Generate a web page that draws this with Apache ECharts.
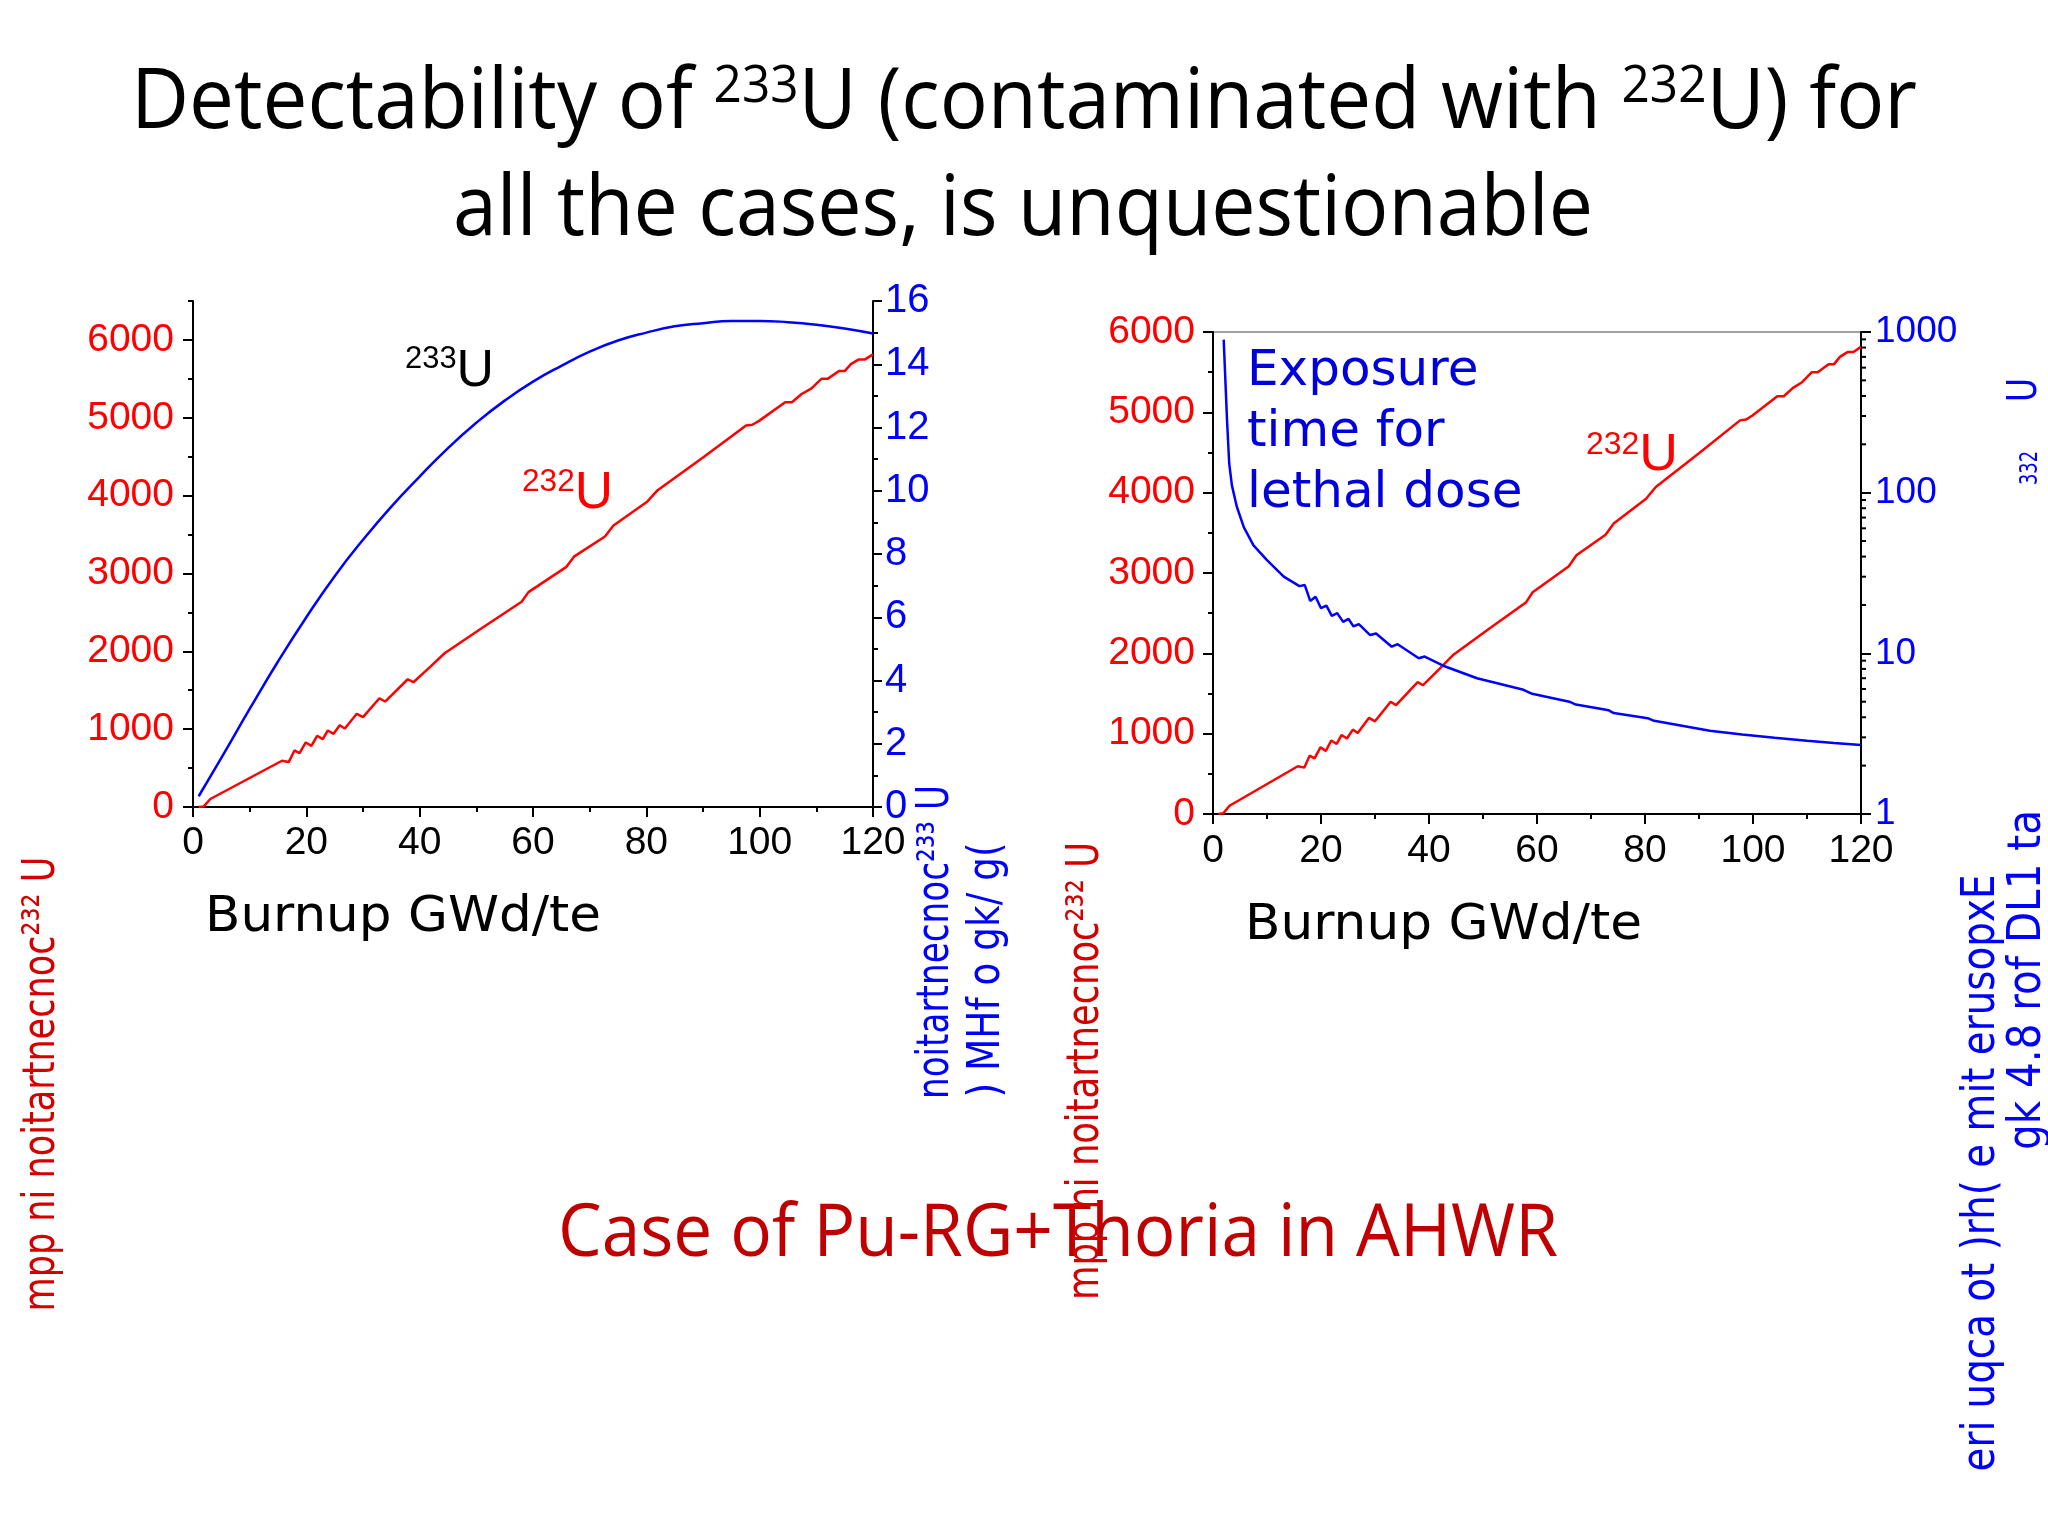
<!DOCTYPE html>
<html><head><meta charset="utf-8">
<script src="https://cdn.jsdelivr.net/npm/echarts@6/dist/echarts.min.js"></script>
<style>html,body{margin:0;padding:0;background:#fff}#c{width:2048px;height:1536px}</style>
</head><body><div id="c"></div>
<script>
// ---------------- data ----------------
const burnupMin = 0, burnupMax = 120;
// 232U concentration (ppm) vs burnup (GWd/te) — same curve in both panels
const u232Burnup = [1.0, 1.9, 3.06, 15.7, 16.9, 17.9, 18.8, 19.9, 20.9, 21.9, 22.9, 23.8, 24.8, 25.9, 26.8, 28.9, 30.0, 32.9, 33.9, 37.9, 38.9, 41.9, 44.4, 51, 58.0, 59.2, 65.9, 67.3, 72.7, 74.2, 80.2, 82.0, 90, 97.6, 98.7, 99.9, 104.5, 105.7, 107.4, 109.1, 110.9, 112.0, 114.0, 115.0, 116.1, 117.5, 118.6, 120];
const u232Ppm = [0, 8, 103, 594, 577, 726, 692, 829, 786, 915, 872, 983, 940, 1051, 1009, 1197, 1154, 1397, 1355, 1641, 1603, 1803, 1975, 2300, 2637, 2760, 3085, 3220, 3475, 3615, 3925, 4070, 4490, 4900, 4910, 4960, 5200, 5200, 5305, 5375, 5500, 5500, 5600, 5600, 5690, 5750, 5750, 5815];
// 233U concentration (g/kg of HM)
const u233Burnup = [1.0, 5, 10, 15, 20, 25, 30, 35, 40, 45, 50, 55, 60, 65, 70, 75, 80, 85, 90, 95, 100, 105, 110, 115, 120];
const u233Gkg = [0.34, 1.55, 3.1, 4.6, 6.0, 7.3, 8.45, 9.5, 10.45, 11.35, 12.15, 12.85, 13.45, 13.95, 14.4, 14.75, 15.0, 15.2, 15.3, 15.37, 15.37, 15.33, 15.25, 15.13, 14.97];
// exposure time for lethal dose (hr), log scale
const expBurnup = [1.98, 2.6, 3.0, 3.5, 4.4, 5.7, 7.5, 10, 13.1, 16.0, 17.0, 18.0, 19.0, 20.0, 21.0, 22.0, 23.0, 24.1, 25.1, 26.0, 27.0, 29.1, 30.2, 33.1, 34.2, 38.1, 39.2, 43.0, 48.9, 57.5, 59.1, 66.0, 67.2, 73.3, 74.2, 80.5, 81.7, 92, 98, 104, 110, 115, 120];
const expHours = [896, 282, 152, 111, 82, 61, 47, 38, 30, 26.2, 26.6, 21.2, 22.5, 19.1, 19.8, 17.1, 17.8, 15.7, 16.4, 14.7, 15.2, 13.0, 13.3, 11.0, 11.4, 9.33, 9.55, 8.28, 7.0, 5.93, 5.6, 5.0, 4.8, 4.42, 4.25, 3.95, 3.8, 3.3, 3.12, 2.98, 2.86, 2.77, 2.69];
// axis ranges / ticks
const leftPpmMax = 6500, leftPpmStep = 500;
const leftPpmMajorTicks = [0, 1000, 2000, 3000, 4000, 5000, 6000];
const u233Max = 16, u233Step = 2;
const rightPpmMax = 6000, rightPpmStep = 1000;
const expMin = 1, expMax = 1000;
const logMinorTicks = [2,3,4,5,6,7,8,9,20,30,40,50,60,70,80,90,200,300,400,500,600,700,800,900];

// ---------------- helpers ----------------
const mctx = document.createElement('canvas').getContext('2d');
function fnt(size, fam, weight){ return (weight||'normal') + ' ' + size + 'px ' + fam; }
function tw(t, font){ mctx.font = font; mctx.textBaseline = 'alphabetic'; return mctx.measureText(t).width; }
function midOff(font){ mctx.font = font; mctx.textBaseline = 'middle'; const d = mctx.measureText('H').actualBoundingBoxDescent; mctx.textBaseline = 'alphabetic'; return d; }
function runs(list, o){
  const widths = list.map(r => tw(r.t, fnt(r.size, r.fam)));
  const total = widths.reduce((a,b)=>a+b,0);
  const sx = o.width ? o.width/total : 1;
  let cur = o.align === 'center' ? o.x - total*sx/2 : (o.align === 'right' ? o.x - total*sx : o.x);
  const els = [];
  list.forEach((r,i) => {
    const f = fnt(r.size, r.fam);
    els.push({type:'text', x: cur, y: o.baseline - (r.raise||0) - midOff(f), scaleX: sx, z: 100,
      style:{text:r.t, font:f, fill:r.color, align:'left', verticalAlign:'middle'}});
    cur += widths[i]*sx;
  });
  return els;
}
function vtext(t, cx, cy, len, size, fam, color){
  const f = fnt(size, fam);
  const sx = len / tw(t, f);
  return {type:'text', x:cx, y:cy, rotation:Math.PI/2, scaleX:sx, z:100,
    style:{text:t, font:f, fill:color, align:'center', verticalAlign:'middle'}};
}

const OS = '"Open Sans", "Noto Sans", sans-serif';
const DJ = '"DejaVu Sans", sans-serif';
const LS = '"Liberation Sans", Arial, sans-serif';
const RED = '#ff0000', BLUE = '#0000ff', TBLUE = '#0000dd', DRED = '#d40000';

const graphics = [].concat(
  runs([
    {t:'Detectability of ', size:84, fam:OS, color:'#000'},
    {t:'233', size:52, fam:OS, color:'#000', raise:26},
    {t:'U (contaminated with ', size:84, fam:OS, color:'#000'},
    {t:'232', size:52, fam:OS, color:'#000', raise:26},
    {t:'U) for', size:84, fam:OS, color:'#000'}
  ], {x:1024, baseline:128, align:'center', width:1786}),
  runs([{t:'all the cases, is unquestionable', size:84, fam:OS, color:'#000'}],
    {x:1023, baseline:235, align:'center', width:1140}),
  runs([{t:'Case of Pu-RG+Thoria in AHWR', size:73, fam:OS, color:'#c00000'}],
    {x:1058, baseline:1256, align:'center', width:1000}),
  runs([{t:'Burnup GWd/te', size:50, fam:DJ, color:'#000'}], {x:205, baseline:931, align:'left', width:396}),
  runs([{t:'Burnup GWd/te', size:50, fam:DJ, color:'#000'}], {x:1245, baseline:939, align:'left', width:397}),
  runs([{t:'233', size:31, fam:LS, color:'#000', raise:18}, {t:'U', size:52, fam:LS, color:'#000'}],
    {x:405, baseline:386, align:'left', width:89}),
  runs([{t:'232', size:31, fam:LS, color:RED, raise:17}, {t:'U', size:52, fam:LS, color:RED}],
    {x:522, baseline:508, align:'left', width:91}),
  runs([{t:'232', size:31, fam:LS, color:RED, raise:16}, {t:'U', size:52, fam:LS, color:RED}],
    {x:1586, baseline:470, align:'left', width:92}),
  runs([{t:'Exposure', size:50, fam:DJ, color:TBLUE}], {x:1247, baseline:385, align:'left'}),
  runs([{t:'time for', size:50, fam:DJ, color:TBLUE}], {x:1247, baseline:446, align:'left'}),
  runs([{t:'lethal dose', size:50, fam:DJ, color:TBLUE}], {x:1247, baseline:507, align:'left'}),
  // garbled (mirrored) vertical axis titles as they appear in the source slide
  [
    vtext('mpp ni noitartnecnoc²³² U', 42, 1084, 455, 45, DJ, DRED),
    vtext('noitartnecnoc²³³ U', 937, 942, 314, 44, DJ, BLUE),
    vtext(') MHf o gk/ g(', 988, 970, 255, 44, DJ, BLUE),
    vtext('mpp ni noitartnecnoc²³² U', 1086, 1071, 458, 45, DJ, DRED),
    vtext('eri uqca ot )rh( e mit erusopxE', 1982, 1173, 597, 46, DJ, BLUE),
    vtext('gk 4.8 rof DL1 ta', 2028, 980, 340, 46, DJ, BLUE),
    vtext('U', 2026, 390, 24, 40, DJ, BLUE),
    vtext('332', 2031, 468, 34, 24, DJ, BLUE)
  ]
);

// ---------------- chart ----------------
const axisLine = {show:true, onZero:false, lineStyle:{color:'#000', width:2}};
const tickStyle = {color:'#000', width:2};
function xAx(gi, labelMargin){
  return {gridIndex:gi, type:'value', min:burnupMin, max:burnupMax, interval:20,
    axisLine:axisLine, axisTick:{show:true, inside:false, length:10, lineStyle:tickStyle},
    minorTick:{show:true, splitNumber:2, length:5, lineStyle:tickStyle},
    axisLabel:{color:'#000', fontSize:39, fontFamily:LS, margin:labelMargin},
    splitLine:{show:false}, minorSplitLine:{show:false}};
}
const chart = echarts.init(document.getElementById('c'), null, {renderer:'canvas'});
chart.setOption({
  backgroundColor:'#fff',
  animation:false,
  grid:[
    {left:193, top:301, width:680, height:506},
    {left:1213, top:332, width:648, height:482, show:true, borderColor:'#a0a0a0', borderWidth:2, backgroundColor:'transparent'}
  ],
  xAxis:[xAx(0, 17), xAx(1, 18)],
  yAxis:[
    {gridIndex:0, type:'value', position:'left', min:0, max:leftPpmMax, interval:leftPpmStep,
      axisLine:axisLine, axisTick:{show:true, length:5, lineStyle:tickStyle},
      axisLabel:{color:RED, fontSize:39, fontFamily:LS, margin:19,
        formatter: v => (v % 1000 === 0 ? String(v) : '')},
      splitLine:{show:false}},
    {gridIndex:0, type:'value', position:'right', min:0, max:u233Max, interval:u233Step,
      axisLine:axisLine, axisTick:{show:true, length:9, lineStyle:tickStyle},
      minorTick:{show:true, splitNumber:2, length:5, lineStyle:tickStyle},
      axisLabel:{color:BLUE, fontSize:40, fontFamily:LS, margin:12},
      splitLine:{show:false}, minorSplitLine:{show:false}},
    {gridIndex:1, type:'value', position:'left', min:0, max:rightPpmMax, interval:rightPpmStep,
      axisLine:axisLine, axisTick:{show:true, length:10, lineStyle:tickStyle},
      minorTick:{show:true, splitNumber:2, length:5, lineStyle:tickStyle},
      axisLabel:{color:RED, fontSize:39, fontFamily:LS, margin:18, formatter: v => String(v)},
      splitLine:{show:false}, minorSplitLine:{show:false}},
    {gridIndex:1, type:'log', logBase:10, position:'right', min:expMin, max:expMax,
      axisLine:axisLine, axisTick:{show:true, length:10, lineStyle:tickStyle},
      axisLabel:{color:BLUE, fontSize:37, fontFamily:LS, margin:14, formatter: v => String(v)},
      splitLine:{show:false}},
    // overlay: longer major ticks for the left ppm axis of panel 1
    {gridIndex:0, type:'value', position:'left', min:0, max:leftPpmMax,
      axisLine:{show:false}, axisLabel:{show:false}, splitLine:{show:false},
      axisTick:{show:true, length:10, lineStyle:tickStyle, customValues:leftPpmMajorTicks}}
  ],
  series:[
    {type:'line', xAxisIndex:0, yAxisIndex:0, data:u232Burnup.map((x,i)=>[x,u232Ppm[i]]),
      symbol:'none', lineStyle:{color:RED, width:2.5}, z:3},
    {type:'line', xAxisIndex:0, yAxisIndex:1, data:u233Burnup.map((x,i)=>[x,u233Gkg[i]]),
      symbol:'none', smooth:true, lineStyle:{color:BLUE, width:2.5}, z:3},
    {type:'line', xAxisIndex:1, yAxisIndex:2, data:u232Burnup.map((x,i)=>[x,u232Ppm[i]]),
      symbol:'none', lineStyle:{color:RED, width:2.5}, z:3},
    {type:'line', xAxisIndex:1, yAxisIndex:3, data:expBurnup.map((x,i)=>[x,expHours[i]]),
      symbol:'none', lineStyle:{color:BLUE, width:2.5}, z:4},
    {type:'custom', xAxisIndex:1, yAxisIndex:3, silent:true, clip:false, z:5,
      data:logMinorTicks.map(v=>[burnupMax, v]),
      renderItem:(params, api) => {
        const p = api.coord([api.value(0), api.value(1)]);
        return {type:'line', shape:{x1:p[0], y1:p[1], x2:p[0]+5, y2:p[1]}, style:{stroke:'#000', lineWidth:2}};
      }}
  ],
  graphic: graphics
});
</script>
</body></html>
